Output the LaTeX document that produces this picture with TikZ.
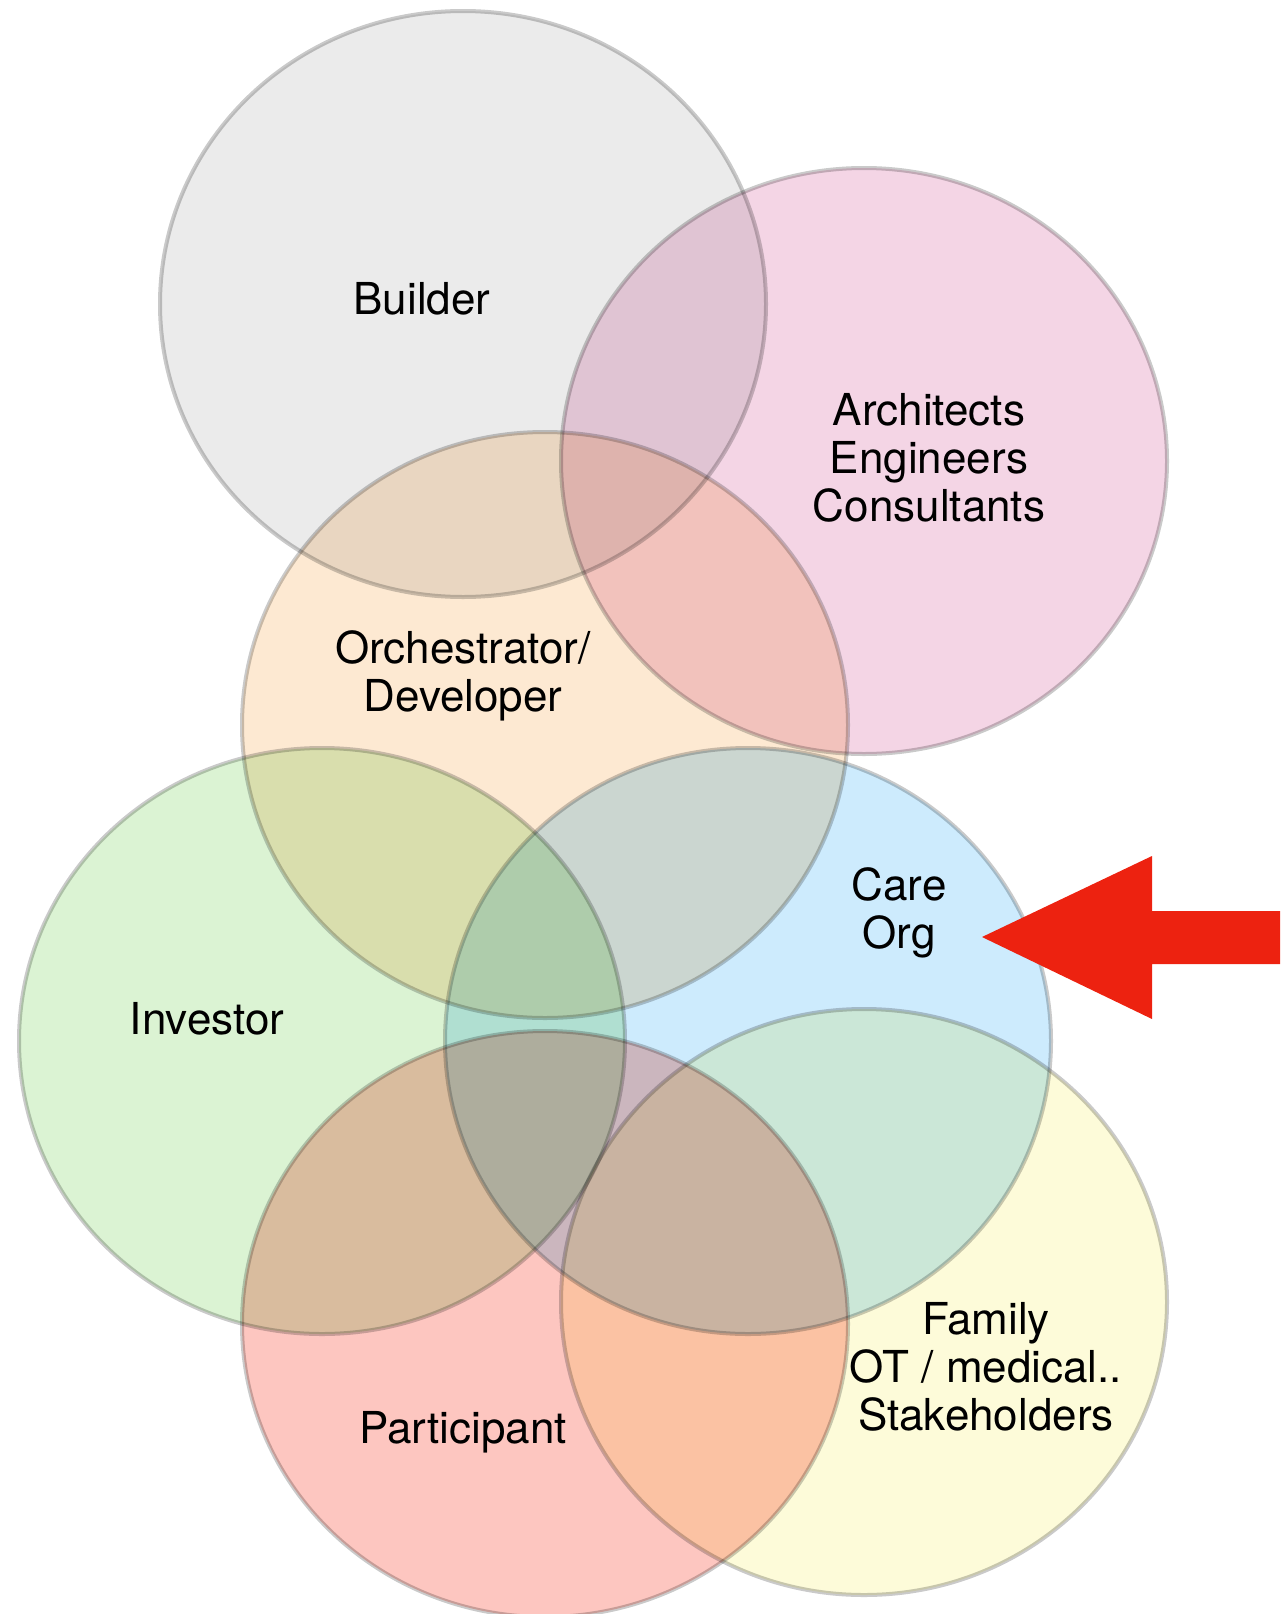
\documentclass[tikz,border=0pt]{standalone}
\usepackage{fontspec}
\setmainfont{TeX Gyre Heros}
\usetikzlibrary{shapes.geometric}

\definecolor{buildergray}{RGB}{235,235,235}
\definecolor{archpink}{RGB}{244,213,229}
\definecolor{orchpeach}{RGB}{253,233,210}
\definecolor{investgreen}{RGB}{219,243,211}
\definecolor{careblue}{RGB}{205,235,253}
\definecolor{partsalmon}{RGB}{253,198,192}
\definecolor{familyyellow}{RGB}{253,251,217}
\definecolor{arrowred}{RGB}{237,34,16}

\begin{document}
\begin{tikzpicture}[x=1pt,y=-1pt,
  group/.style={ellipse,minimum width=606pt,minimum height=586pt,inner sep=0pt,
    draw=black!60,draw opacity=0.35,line width=4pt},
  tag/.style={align=center,font=\fontsize{44}{48}\selectfont,text=black}]

  \useasboundingbox (0,0) rectangle (1280,1614);

  \begin{scope}[blend mode=multiply]
  \node[group,fill=buildergray] (builder) at (463,304) {};
  \node[group,fill=archpink] (arch) at (864,461) {};
  \node[group,fill=orchpeach] (orch) at (545,725) {};
  \node[group,fill=investgreen] (investor) at (322,1041) {};
  \node[group,fill=careblue] (care) at (748,1041) {};
  \node[group,fill=partsalmon] (participant) at (545,1324) {};
  \node[group,fill=familyyellow] (family) at (864,1302) {};
  \end{scope}

  \node[tag] (builderlbl) at (422,299) {Builder};
  \node[tag] (archlbl) at (929,458) {Architects\\Engineers\\Consultants};
  \node[tag] (orchlbl) at (463,676) {Orchestrator/\\Developer};
  \node[tag] (carelbl) at (899,913) {Care\\Org};
  \node[tag] (investorlbl) at (207,1019) {Investor};
  \node[tag] (participantlbl) at (463,1432) {Participant};
  \node[tag] (familylbl) at (986,1367) {Family\\OT / medical..\\Stakeholders};

  % pointer to the care org
  \fill[arrowred] (982,937) -- (1152,856) -- (1152,911) -- (1280,911)
    -- (1280,964) -- (1152,964) -- (1152,1019) -- cycle;

\end{tikzpicture}
\end{document}
